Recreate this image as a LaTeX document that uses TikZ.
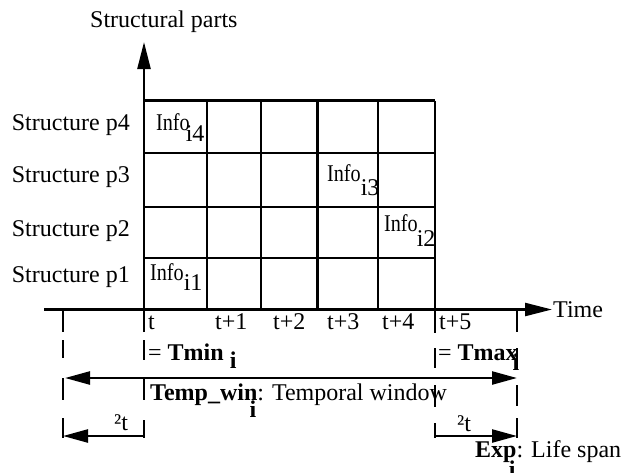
\documentclass[tikz,border=0pt]{standalone}
\usepackage{graphicx}
\usepackage{fontspec}
\setmainfont{Liberation Serif}
\usetikzlibrary{arrows.meta}
\newcommand\infow{\scalebox{0.84}[1]{Info}}
\begin{document}
\begin{tikzpicture}[x=1pt,y=-1pt,
  lbl/.style={anchor=base west,inner sep=0pt,font=\fontsize{24}{28}\selectfont},
  gridline/.style={line width=2.2pt},
  axisline/.style={line width=2.4pt},
  dashseg/.style={line width=2.4pt},
  bigtip/.style={-{Triangle[length=27pt,width=13pt]}},
  bothtip/.style={{Triangle[length=25pt,width=13pt]}-{Triangle[length=25pt,width=13pt]}}]
\useasboundingbox (0,0) rectangle (622,472);
% grid
\foreach \x in {207,261,317.5,378,435} \draw[gridline] (\x,100.5) -- (\x,309.5);
\foreach \y in {100.5,152.7,207,258} \draw[gridline] (144,\y) -- (435,\y);
% axes
\coordinate (ybot) at (144,332);
\coordinate (ytop) at (144,42);
\coordinate (xleft) at (44,309.5);
\coordinate (xright) at (552,309.5);
\draw[axisline,bigtip] (ybot) -- (ytop);
\draw[axisline,bigtip] (xleft) -- (xright);
\draw[gridline] (435,309.5) -- (435,333);
% dashed verticals
\foreach \a/\b in {310/332,340/358,378/400,418/438} \draw[dashseg] (63,\a) -- (63,\b);
\foreach \a/\b in {340/360,378/400,420/438} \draw[dashseg] (144,\a) -- (144,\b);
\foreach \a/\b in {348/368,385/407,423/438} \draw[dashseg] (435,\a) -- (435,\b);
\foreach \a/\b in {310/332,348/370,385/406,418/438} \draw[dashseg] (517,\a) -- (517,\b);
% temporal window arrow
\coordinate (wl) at (65,378);
\coordinate (wr) at (517,378);
\draw[axisline,bothtip] (wl) -- (wr);
% life span arrows
\coordinate (dl0) at (144,436);
\coordinate (dl1) at (63,436);
\coordinate (dr0) at (435,436);
\coordinate (dr1) at (517,436);
\draw[axisline,-{Triangle[length=25pt,width=13pt]}] (dl0) -- (dl1);
\draw[axisline,-{Triangle[length=25pt,width=13pt]}] (dr0) -- (dr1);
% labels
\node[lbl] (sp) at (90,27) {Structural parts};
\node[lbl] (time) at (553,317) {Time};
\node[lbl] (s4) at (11.7,130) {Structure p4};
\node[lbl] (s3) at (11.7,182.7) {Structure p3};
\node[lbl] (s2) at (11.7,236.7) {Structure p2};
\node[lbl] (s1) at (11.7,282.7) {Structure p1};
\node[lbl] (t0) at (148,329) {t};
\node[lbl] (t1) at (215,329) {t+1};
\node[lbl] (t2) at (273,329) {t+2};
\node[lbl] (t3) at (327,329) {t+3};
\node[lbl] (t4) at (382,329) {t+4};
\node[lbl] (t5) at (439,329) {t+5};
\node[lbl] (i4) at (156,130) {\infow\kern-4pt\raisebox{-11.7pt}{i4}};
\node[lbl] (i3) at (327,181.7) {\infow\kern0pt\raisebox{-13.3pt}{i3}};
\node[lbl] (i2) at (384,231.7) {\infow\kern-1pt\raisebox{-15pt}{i2}};
\node[lbl] (i1) at (150,280.7) {\infow\kern0pt\raisebox{-9.3pt}{i1}};
\node[lbl] (tmin) at (148,360) {= \textbf{Tmin \raisebox{-8pt}{i}}};
\node[lbl] (tmax) at (438,360) {= \textbf{Tmax\kern-5pt\raisebox{-10pt}{i}}};
\node[lbl] (tw) at (150,400) {\textbf{Temp\_win}\llap{\raisebox{-17pt}{\textbf{i}}\kern1pt}: Temporal window};
\node[lbl] (exp) at (475,457) {\textbf{Exp}\llap{\raisebox{-20pt}{\textbf{i}}\kern1pt}: Life span};
\node[lbl] (dtl) at (114,430) {²t};
\node[lbl] (dtr) at (457,431) {²t};
\end{tikzpicture}
\end{document}
